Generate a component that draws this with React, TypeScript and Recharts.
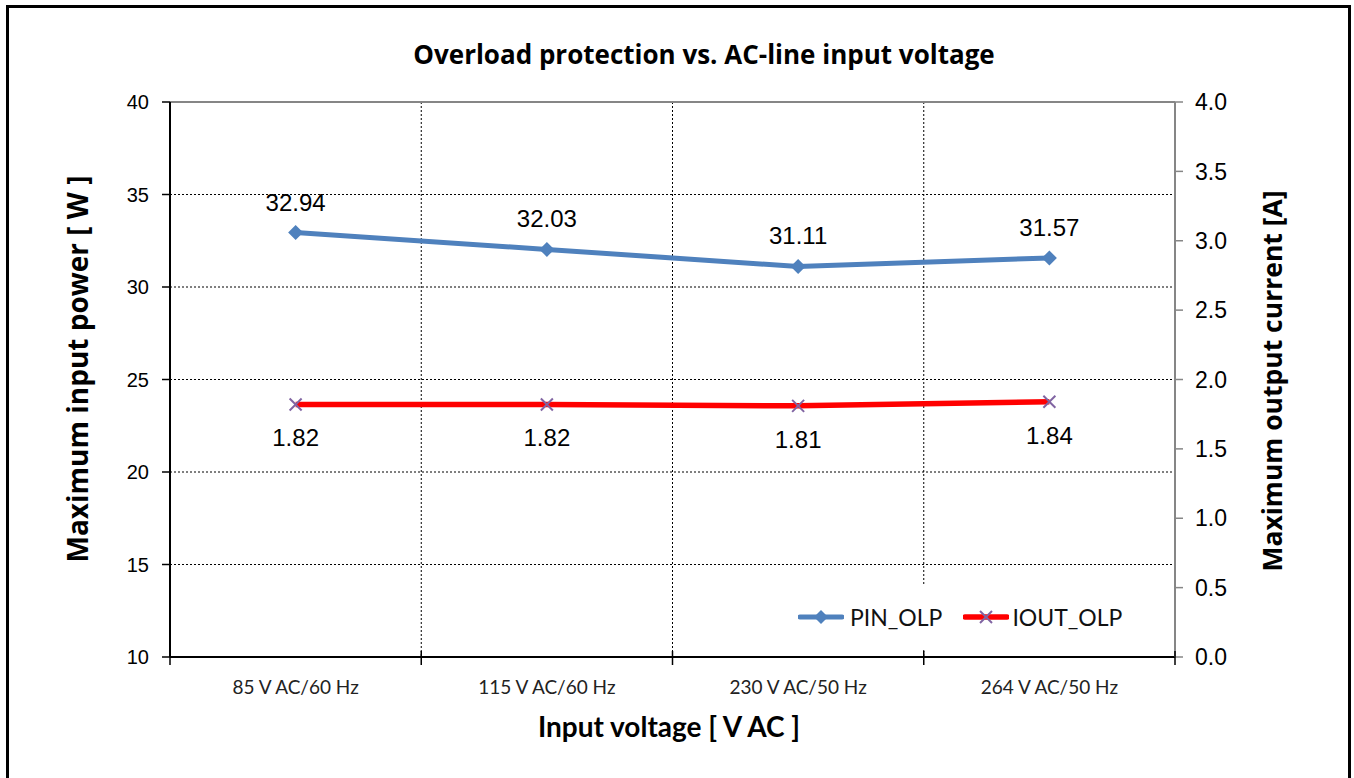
import React from 'react'
import {
  LineChart,
  Line,
  XAxis,
  YAxis,
  CartesianGrid,
  Legend,
  LabelList,
  ReferenceLine,
} from 'recharts'

// values
const CATEGORIES = ['85 V AC/60 Hz', '115 V AC/60 Hz', '230 V AC/50 Hz', '264 V AC/50 Hz']
const PIN_OLP = [32.94, 32.03, 31.11, 31.57]
const IOUT_OLP = [1.82, 1.82, 1.81, 1.84]
const LEFT_TICKS = [10, 15, 20, 25, 30, 35, 40]
const RIGHT_TICKS = [0, 0.5, 1, 1.5, 2, 2.5, 3, 3.5, 4]

const W = 1354
const H = 778
const MARGIN = { top: 102, right: 99, bottom: 61, left: 110 }
const LEFT_AXIS_W = 60
const RIGHT_AXIS_W = 80
const XAXIS_H = 60
const PLOT_LEFT = MARGIN.left + LEFT_AXIS_W
const PLOT_RIGHT = W - MARGIN.right - RIGHT_AXIS_W
const PLOT_BOTTOM = H - MARGIN.bottom - XAXIS_H
const BAND = (PLOT_RIGHT - PLOT_LEFT) / CATEGORIES.length

const ARIAL = '"Liberation Sans", Arial, sans-serif'
const LATO = 'Lato, Carlito, Calibri, sans-serif'
const OPEN = '"Open Sans", "Segoe UI", sans-serif'
const BLUE = '#4F81BD'
const RED = '#FF0000'
const PURPLE = '#8064A2'
const GREY = '#868686'

const data = CATEGORIES.map((cat, i) => ({ cat, pin: PIN_OLP[i], iout: IOUT_OLP[i] }))

const Diamond = (props: any) => {
  const { cx, cy } = props
  if (cx == null || cy == null) return null
  const r = 7.5
  return <polygon points={`${cx},${cy - r} ${cx + r},${cy} ${cx},${cy + r} ${cx - r},${cy}`} fill={BLUE} />
}

const Cross = (props: any) => {
  const { cx, cy } = props
  if (cx == null || cy == null) return null
  const r = 6
  return (
    <g stroke={PURPLE} strokeWidth={2}>
      <line x1={cx - r} y1={cy - r} x2={cx + r} y2={cy + r} />
      <line x1={cx - r} y1={cy + r} x2={cx + r} y2={cy - r} />
    </g>
  )
}

const CatTick = (props: any) => {
  const { x, payload, index } = props
  const last = index === CATEGORIES.length - 1
  return (
    <g>
      <line x1={x - BAND / 2} x2={x - BAND / 2} y1={PLOT_BOTTOM - 6} y2={PLOT_BOTTOM + 8} stroke="#000" strokeWidth={1.5} />
      {last && (
        <line x1={x + BAND / 2} x2={x + BAND / 2} y1={PLOT_BOTTOM - 6} y2={PLOT_BOTTOM + 8} stroke="#000" strokeWidth={1.5} />
      )}
      <text x={x} y={PLOT_BOTTOM + 37} textAnchor="middle" fontFamily={LATO} fontSize={19} fill="#222">
        {payload.value}
      </text>
    </g>
  )
}

const topLabel = (props: any) => {
  const { x, y, value } = props
  return (
    <text x={x} y={y - 22} textAnchor="middle" fontFamily={ARIAL} fontSize={24} fill="#000">
      {Number(value).toFixed(2)}
    </text>
  )
}

const bottomLabel = (props: any) => {
  const { x, y, value } = props
  return (
    <text x={x} y={y + 42} textAnchor="middle" fontFamily={ARIAL} fontSize={24} fill="#000">
      {Number(value).toFixed(2)}
    </text>
  )
}

const LegendBox = () => (
  <div
    style={{
      display: 'flex',
      alignItems: 'center',
      background: '#fff',
      height: 62,
      padding: '0 12px',
      fontFamily: LATO,
      fontSize: 23,
      color: '#111',
    }}
  >
    <svg width={46} height={16} style={{ marginRight: 6 }}>
      <line x1={2} x2={44} y1={8} y2={8} stroke={BLUE} strokeWidth={5} strokeLinecap="round" />
      <polygon points="23,1 30,8 23,15 16,8" fill={BLUE} />
    </svg>
    <span style={{ marginRight: 21 }}>PIN_OLP</span>
    <svg width={46} height={16} style={{ marginRight: 3 }}>
      <line x1={2} x2={44} y1={8} y2={8} stroke={RED} strokeWidth={5.5} strokeLinecap="round" />
      <g stroke={PURPLE} strokeWidth={2}>
        <line x1={17} y1={2} x2={29} y2={14} />
        <line x1={17} y1={14} x2={29} y2={2} />
      </g>
    </svg>
    <span>IOUT_OLP</span>
  </div>
)

export default function App() {
  return (
    <div style={{ position: 'absolute', left: 0, top: 0, width: W, height: H, background: '#fff' }}>
      <LineChart width={W} height={H} data={data} margin={MARGIN}>
        <CartesianGrid
          yAxisId="left"
          stroke="#000"
          strokeDasharray="2 2"
          strokeWidth={1}
          verticalCoordinatesGenerator={({ offset }: any) =>
            [1, 2, 3].map((i) => offset.left + (i * offset.width) / CATEGORIES.length)
          }
        />
        <XAxis
          dataKey="cat"
          height={XAXIS_H}
          padding={{ left: BAND / 2, right: BAND / 2 }}
          axisLine={{ stroke: '#000', strokeWidth: 2 }}
          tickLine={false}
          tick={<CatTick />}
          interval={0}
        />
        <YAxis
          yAxisId="left"
          width={LEFT_AXIS_W}
          domain={[10, 40]}
          ticks={LEFT_TICKS}
          interval={0}
          axisLine={{ stroke: '#000', strokeWidth: 2 }}
          tickLine={{ stroke: '#000', strokeWidth: 1.5 }}
          tickSize={8}
          tickMargin={13}
          tick={{ fontFamily: ARIAL, fontSize: 20, fill: '#000' }}
        />
        <YAxis
          yAxisId="right"
          orientation="right"
          width={RIGHT_AXIS_W}
          domain={[0, 4]}
          ticks={RIGHT_TICKS}
          interval={0}
          tickFormatter={(v: number) => v.toFixed(1)}
          axisLine={{ stroke: GREY, strokeWidth: 2 }}
          tickLine={{ stroke: GREY, strokeWidth: 1.5 }}
          tickSize={8}
          tickMargin={12}
          tick={{ fontFamily: ARIAL, fontSize: 23, fill: '#000' }}
        />
        <ReferenceLine yAxisId="left" y={40} stroke={GREY} strokeWidth={2} />
        <Legend
          layout="horizontal"
          align="center"
          verticalAlign="middle"
          content={() => <LegendBox />}
          wrapperStyle={{ position: 'absolute', left: 786, top: 586, width: 'auto' }}
        />
        <Line
          yAxisId="right"
          dataKey="iout"
          name="IOUT_OLP"
          stroke={RED}
          strokeWidth={5.5}
          dot={<Cross />}
          activeDot={false}
          isAnimationActive={false}
        >
          <LabelList dataKey="iout" content={bottomLabel} />
        </Line>
        <Line
          yAxisId="left"
          dataKey="pin"
          name="PIN_OLP"
          stroke={BLUE}
          strokeWidth={5}
          dot={<Diamond />}
          activeDot={false}
          isAnimationActive={false}
        >
          <LabelList dataKey="pin" content={topLabel} />
        </Line>
        <text x={704} y={64} textAnchor="middle" fontFamily={OPEN} fontWeight={700} fontSize={26} fill="#000">
          Overload protection vs. AC-line input voltage
        </text>
        <text x={669} y={737} textAnchor="middle" fontFamily={LATO} fontWeight={700} fontSize={28} fill="#000">
          Input voltage [ V AC ]
        </text>
        <text
          x={88}
          y={369}
          transform="rotate(-90 88 369)"
          textAnchor="middle"
          fontFamily={OPEN}
          fontWeight={700}
          fontSize={28}
          fill="#000"
        >
          Maximum input power [ W ]
        </text>
        <text
          x={1282}
          y={381}
          transform="rotate(-90 1282 381)"
          textAnchor="middle"
          fontFamily={OPEN}
          fontWeight={700}
          fontSize={26.5}
          fill="#000"
        >
          Maximum output current [A]
        </text>
      </LineChart>
      <div
        style={{
          position: 'absolute',
          left: 6,
          top: 5,
          width: 1339,
          height: H,
          border: '3px solid #000',
          borderBottom: 'none',
          pointerEvents: 'none',
        }}
      />
    </div>
  )
}
